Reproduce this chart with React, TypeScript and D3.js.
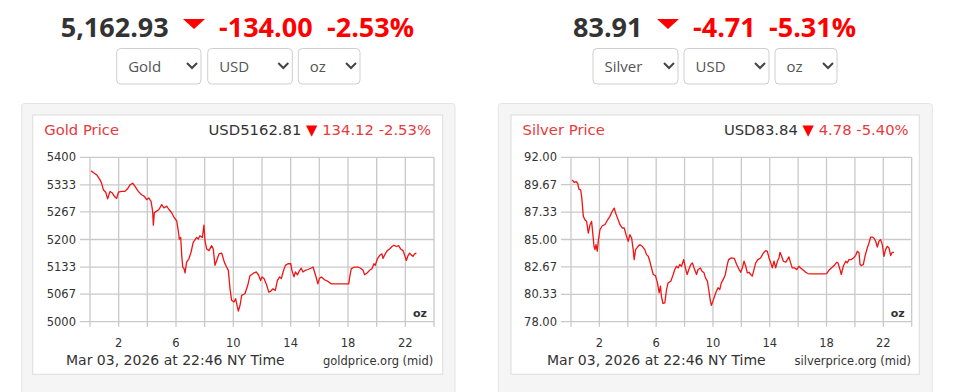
import * as d3 from 'd3'
import { FC } from 'react'

// hour of day (NY time) and price
const goldSeries: [number, number][] = [
  [0.07, 5367], [0.23, 5363], [0.47, 5357], [0.7, 5345], [0.81, 5337], [0.93, 5321], [1.1, 5315], [1.23, 5299],
  [1.4, 5317], [1.56, 5313], [1.7, 5305], [1.86, 5300], [1.98, 5315], [2.2, 5317], [2.44, 5317], [2.63, 5324],
  [2.79, 5333], [2.98, 5337], [3.14, 5329], [3.37, 5317], [3.6, 5309], [3.79, 5305], [3.95, 5297], [4.1, 5301],
  [4.26, 5293], [4.37, 5269], [4.42, 5235], [4.49, 5265], [4.65, 5269], [4.81, 5273], [5.0, 5285], [5.16, 5277],
  [5.35, 5281], [5.51, 5273], [5.7, 5265], [5.88, 5253], [6.05, 5245], [6.16, 5221], [6.23, 5201], [6.33, 5205],
  [6.4, 5161], [6.47, 5133], [6.56, 5129], [6.63, 5119], [6.74, 5145], [6.9, 5153], [7.05, 5169], [7.2, 5193],
  [7.44, 5205], [7.56, 5201], [7.67, 5209], [7.84, 5205], [7.95, 5235], [8.02, 5197], [8.14, 5177], [8.3, 5173],
  [8.49, 5185], [8.6, 5177], [8.72, 5137], [8.84, 5149], [9.0, 5165], [9.19, 5167], [9.37, 5145], [9.53, 5133],
  [9.65, 5125], [9.77, 5080], [9.88, 5052], [10.05, 5048], [10.16, 5056], [10.28, 5036], [10.35, 5026], [10.47, 5040],
  [10.58, 5064], [10.81, 5068], [11.0, 5088], [11.16, 5112], [11.4, 5118], [11.6, 5121], [11.77, 5113], [11.9, 5100],
  [12.0, 5109], [12.14, 5105], [12.3, 5092], [12.47, 5072], [12.6, 5074], [12.77, 5080], [12.93, 5076], [13.07, 5100],
  [13.23, 5109], [13.35, 5105], [13.47, 5121], [13.63, 5137], [13.81, 5141], [14.0, 5141], [14.09, 5125], [14.23, 5109],
  [14.33, 5121], [14.47, 5114], [14.63, 5125], [14.74, 5130], [14.86, 5121], [15.02, 5125], [15.2, 5127], [15.4, 5130],
  [15.56, 5133], [15.67, 5121], [15.8, 5105], [15.9, 5092], [16.0, 5105], [16.14, 5109], [16.37, 5102], [16.6, 5098],
  [16.84, 5092], [17.07, 5092], [17.53, 5092], [18.05, 5092], [18.12, 5109], [18.23, 5129], [18.47, 5133], [18.7, 5133],
  [18.88, 5130], [19.05, 5125], [19.16, 5114], [19.35, 5119], [19.5, 5125], [19.67, 5129], [19.81, 5141], [19.9, 5137],
  [20.05, 5153], [20.2, 5161], [20.37, 5165], [20.44, 5154], [20.6, 5165], [20.74, 5173], [20.9, 5177], [21.07, 5183],
  [21.2, 5186], [21.37, 5183], [21.53, 5185], [21.67, 5177], [21.84, 5173], [21.95, 5162], [22.07, 5149], [22.19, 5161],
  [22.3, 5167], [22.42, 5162], [22.53, 5159], [22.65, 5165], [22.77, 5167],
]

const silverSeries: [number, number][] = [
  [0.09, 90.08], [0.23, 89.85], [0.35, 89.94], [0.47, 89.79], [0.56, 89.28], [0.68, 89.23], [0.75, 88.66], [0.87, 86.97],
  [0.98, 86.68], [1.1, 86.54], [1.22, 85.55], [1.34, 86.26], [1.45, 86.54], [1.52, 85.69], [1.62, 84.42], [1.69, 84.14],
  [1.76, 84.56], [1.85, 84.0], [1.92, 84.84], [2.04, 85.83], [2.2, 86.17], [2.39, 86.26], [2.58, 86.68], [2.74, 86.97],
  [2.9, 87.39], [3.05, 87.67], [3.14, 87.25], [3.28, 86.82], [3.45, 86.26], [3.61, 85.98], [3.75, 85.98], [3.91, 85.27],
  [4.03, 84.85], [4.15, 85.41], [4.27, 85.13], [4.38, 84.14], [4.45, 83.29], [4.55, 84.14], [4.73, 84.42], [4.85, 84.56],
  [5.02, 84.42], [5.2, 84.14], [5.32, 83.71], [5.44, 83.57], [5.55, 83.15], [5.67, 82.58], [5.79, 82.02], [5.95, 81.93],
  [6.09, 81.31], [6.21, 80.46], [6.3, 81.03], [6.37, 80.18], [6.47, 79.56], [6.61, 79.61], [6.73, 80.74], [6.84, 81.31],
  [7.03, 81.45], [7.2, 82.02], [7.31, 82.44], [7.43, 82.72], [7.55, 82.58], [7.66, 82.87], [7.78, 82.72], [7.94, 83.29],
  [8.06, 82.58], [8.18, 82.02], [8.3, 82.44], [8.44, 82.87], [8.55, 83.01], [8.67, 82.58], [8.84, 82.02], [8.95, 82.44],
  [9.12, 82.58], [9.23, 82.3], [9.37, 82.16], [9.47, 81.73], [9.61, 81.45], [9.7, 80.74], [9.82, 79.75], [9.89, 79.39],
  [10.0, 79.75], [10.12, 80.18], [10.24, 80.6], [10.36, 80.89], [10.48, 80.74], [10.59, 81.31], [10.78, 81.73], [10.87, 82.02],
  [11.01, 82.87], [11.1, 83.29], [11.3, 83.43], [11.5, 83.4], [11.67, 82.87], [11.84, 82.44], [11.95, 82.21], [12.07, 82.58],
  [12.19, 83.15], [12.31, 82.72], [12.42, 82.16], [12.54, 82.21], [12.66, 82.02], [12.77, 81.88], [12.89, 82.44], [13.01, 83.01],
  [13.17, 83.29], [13.36, 83.43], [13.55, 83.85], [13.71, 84.05], [13.83, 83.99], [13.95, 83.43], [14.07, 83.01], [14.18, 82.58],
  [14.3, 83.15], [14.42, 82.58], [14.54, 83.15], [14.65, 83.43], [14.72, 83.91], [14.84, 83.57], [14.96, 83.15], [15.12, 83.06],
  [15.24, 83.29], [15.35, 83.52], [15.47, 83.01], [15.59, 82.58], [15.76, 82.58], [15.9, 82.44], [16.06, 82.72], [16.18, 82.58],
  [16.37, 82.38], [16.53, 82.21], [16.69, 82.1], [16.88, 82.07], [17.35, 82.07], [17.82, 82.07], [18.01, 82.1], [18.17, 82.38],
  [18.34, 82.58], [18.53, 82.78], [18.71, 83.06], [18.81, 83.01], [18.95, 82.44], [19.04, 82.02], [19.18, 82.72], [19.35, 83.15],
  [19.46, 83.01], [19.58, 83.29], [19.75, 83.29], [19.89, 83.43], [20.05, 83.63], [20.17, 84.0], [20.29, 83.85], [20.36, 82.87],
  [20.45, 82.78], [20.59, 82.87], [20.71, 83.57], [20.87, 84.28], [20.99, 84.7], [21.11, 85.21], [21.23, 85.21], [21.34, 85.13],
  [21.46, 84.85], [21.58, 84.36], [21.69, 84.85], [21.81, 84.99], [21.93, 84.56], [22.05, 83.57], [22.16, 84.14], [22.28, 84.42],
  [22.4, 84.28], [22.52, 83.63], [22.63, 83.91], [22.75, 83.91],
]

const goldYTicks = ['5000', '5067', '5133', '5200', '5267', '5333', '5400']
const silverYTicks = ['78.00', '80.33', '82.67', '85.00', '87.33', '89.67', '92.00']
const gridHours = [0, 2, 4, 6, 8, 10, 12, 14, 16, 18, 20, 22, 24]
const labelHours = [2, 6, 10, 14, 18, 22]

const goldHeader = ['5,162.93', '-134.00', '-2.53%']
const silverHeader = ['83.91', '-4.71', '-5.31%']
const goldSelects = ['Gold', 'USD', 'oz']
const silverSelects = ['Silver', 'USD', 'oz']

const RED = '#ff0000'
const CHART_FONT = '"DejaVu Sans", Verdana, sans-serif'
const HEAD_FONT = '"Open Sans", sans-serif'

interface HeaderProps {
  values: string[]
  xs: number[] // start x of main, triangle, change, pct
  selects: string[]
  boxes: [number, number][]
}

const Header: FC<HeaderProps> = ({ values, xs, selects, boxes }) => {
  const [x0, xt, x1, x2] = xs
  return (
    <g fontFamily={HEAD_FONT}>
      <text x={x0} y={36.7} fontSize={27} fontWeight={700} fill="#333">{values[0]}</text>
      <path d={`M${xt},19 L${xt + 22},19 L${xt + 11},29 Z`} fill={RED} />
      <text x={x1} y={36.7} fontSize={27} fontWeight={700} fill={RED}>{values[1]}</text>
      <text x={x2} y={36.7} fontSize={27} fontWeight={700} fill={RED}>{values[2]}</text>
      {selects.map((s, i) => {
        const [a, b] = boxes[i]
        return (
          <g key={s + i}>
            <rect x={a} y={48.5} width={b - a} height={35.5} rx={4} fill="#fff" stroke="#cfcfcf" />
            <text x={a + 11.5} y={71.5} fontSize={15} fill="#555">{s}</text>
            <path d={`M${b - 14},63 L${b - 9},68 L${b - 4},63`} fill="none" stroke="#444" strokeWidth={2} />
          </g>
        )
      })}
    </g>
  )
}

interface PanelProps {
  outer: [number, number]
  inner: [number, number]
  plot: [number, number]
  series: [number, number][]
  yTicks: string[]
  title: string
  price: string
  change: string
  site: string
}

const Panel: FC<PanelProps> = ({ outer, inner, plot, series, yTicks, title, price, change, site }) => {
  const top = 157.3
  const bottom = 321.7
  const x = d3.scaleLinear().domain([0, 24]).range(plot)
  const yVals = yTicks.map(Number)
  const y = d3.scaleLinear().domain([yVals[0], yVals[yVals.length - 1]]).range([bottom, top])
  const line = d3.line<[number, number]>().x(d => x(d[0])).y(d => y(d[1]))
  return (
    <g fontFamily={CHART_FONT}>
      <rect x={outer[0]} y={103.5} width={outer[1] - outer[0]} height={320} rx={3} fill="#f5f5f5" stroke="#e4e4e4" />
      <rect x={inner[0]} y={115} width={inner[1] - inner[0]} height={259.3} fill="#fff" stroke="#dcdcdc" />
      <text x={inner[0] + 11.5} y={135} fontSize={14.8} fill="#e8393c">{title}</text>
      <text x={plot[1] - 3} y={135} fontSize={14.8} textAnchor="end">
        <tspan fill="#333">{price} </tspan>
        <tspan fill={RED}>▼</tspan>
        <tspan fill="#e8393c"> {change}</tspan>
      </text>
      {yTicks.map((t, i) => (
        <g key={t}>
          <line x1={plot[0] - 10} x2={plot[1]} y1={y(yVals[i])} y2={y(yVals[i])} stroke="#c9c9c9" strokeWidth={1.3} />
          <text x={plot[0] - 14} y={y(yVals[i])} dy="0.36em" fontSize={11.5} textAnchor="end" fill="#333">{t}</text>
        </g>
      ))}
      {gridHours.map(h => (
        <line key={h} x1={x(h)} x2={x(h)} y1={top} y2={bottom + 5} stroke="#c9c9c9" strokeWidth={1.3} />
      ))}
      {labelHours.map(h => (
        <text key={h} x={x(h)} y={346.7} fontSize={11.5} textAnchor="middle" fill="#333">{h}</text>
      ))}
      <text x={plot[1] - 7} y={317} fontSize={11} fontWeight={700} textAnchor="end" fill="#333">oz</text>
      <path d={line(series) ?? ''} fill="none" stroke="#f01414" strokeWidth={1.3} strokeLinejoin="round" />
      <text x={plot[0] - 24} y={365} fontSize={14} fill="#333">Mar 03, 2026 at 22:46 NY Time</text>
      <text x={plot[1] - 0.7} y={365} fontSize={11.5} textAnchor="end" fill="#333">{site}</text>
    </g>
  )
}

const App: FC = () => {
  return (
    <div style={{ position: 'absolute', left: 0, top: 0 }}>
      <svg width={967} height={392} style={{ display: 'block', background: '#fff' }}>
        <Header values={goldHeader} xs={[60.7, 183, 219, 327]} selects={goldSelects}
          boxes={[[116.7, 201], [207.7, 292.3], [298.3, 360]]} />
        <Header values={silverHeader} xs={[573, 657, 693, 769]} selects={silverSelects}
          boxes={[[593, 678], [684, 769], [775, 837]]} />
        <Panel outer={[21.7, 455]} inner={[32.7, 442.7]} plot={[90, 434]} series={goldSeries}
          yTicks={goldYTicks} title="Gold Price" price="USD5162.81" change="134.12 -2.53%" site="goldprice.org (mid)" />
        <Panel outer={[498.3, 932.3]} inner={[511, 919.3]} plot={[571, 911.7]} series={silverSeries}
          yTicks={silverYTicks} title="Silver Price" price="USD83.84" change="4.78 -5.40%" site="silverprice.org (mid)" />
      </svg>
    </div>
  )
}

export default App
